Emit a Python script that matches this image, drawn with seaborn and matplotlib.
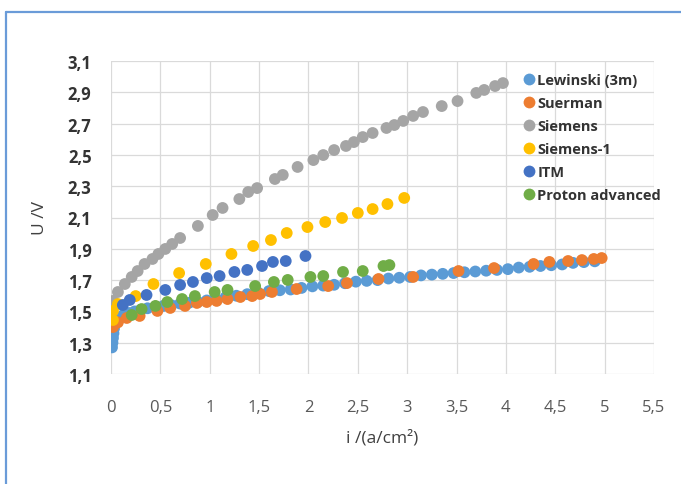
import numpy as np
import pandas as pd
import matplotlib
matplotlib.use("Agg")
import matplotlib.pyplot as plt
from matplotlib.lines import Line2D
from matplotlib.ticker import FixedLocator, FuncFormatter
import seaborn as sns

# Polarisation curves of PEM electrolysers
series_names = ["Lewinski (3m)", "Suerman", "Siemens", "Siemens-1", "ITM", "Proton advanced"]
series_colors = ["#5B9BD5", "#ED7D31", "#A5A5A5", "#FFC000", "#4472C4", "#70AD47"]

lewinski_i = [0.01, 0.015, 0.02, 0.025, 0.03, 0.04, 0.06, 0.09, 0.13, 0.18, 0.24, 0.30, 0.37,
              0.45, 0.53, 0.61, 0.70, 0.79, 0.88, 0.97, 1.06, 1.16, 1.27, 1.38, 1.49, 1.60,
              1.71, 1.82, 1.93, 2.04, 2.15, 2.26, 2.37, 2.48, 2.59, 2.70, 2.81, 2.92, 3.03,
              3.14, 3.25, 3.36, 3.47, 3.58, 3.69, 3.80, 3.91, 4.02, 4.13, 4.24, 4.35, 4.46,
              4.57, 4.68, 4.79, 4.90]
lewinski_u = [1.27, 1.30, 1.33, 1.36, 1.39, 1.42, 1.44, 1.46, 1.48, 1.49, 1.50, 1.51, 1.52,
              1.53, 1.535, 1.54, 1.55, 1.555, 1.56, 1.57, 1.58, 1.59, 1.60, 1.61, 1.62, 1.63,
              1.635, 1.64, 1.65, 1.66, 1.665, 1.67, 1.68, 1.69, 1.695, 1.70, 1.71, 1.715, 1.72,
              1.73, 1.735, 1.74, 1.745, 1.75, 1.755, 1.76, 1.765, 1.77, 1.78, 1.785, 1.79, 1.795,
              1.80, 1.81, 1.815, 1.82]

suerman_i = [0.02, 0.07, 0.16, 0.29, 0.47, 0.60, 0.75, 0.87, 0.97, 1.07, 1.18, 1.31, 1.43,
             1.51, 1.63, 1.88, 2.20, 2.39, 2.71, 3.06, 3.52, 3.88, 4.28, 4.44, 4.63, 4.77,
             4.89, 4.97]
suerman_u = [1.40, 1.43, 1.458, 1.471, 1.503, 1.522, 1.535, 1.554, 1.56, 1.567, 1.579, 1.592,
             1.598, 1.611, 1.624, 1.643, 1.662, 1.681, 1.707, 1.72, 1.758, 1.777, 1.803, 1.816,
             1.822, 1.828, 1.835, 1.841]

siemens_i = [0.01, 0.02, 0.07, 0.14, 0.21, 0.27, 0.34, 0.42, 0.48, 0.55, 0.62, 0.70, 0.88,
             1.03, 1.13, 1.30, 1.39, 1.48, 1.66, 1.74, 1.89, 2.05, 2.15, 2.26, 2.38, 2.46,
             2.55, 2.65, 2.79, 2.87, 2.96, 3.06, 3.16, 3.35, 3.51, 3.70, 3.78, 3.89, 3.97]
siemens_u = [1.52, 1.567, 1.624, 1.675, 1.72, 1.758, 1.803, 1.835, 1.867, 1.899, 1.931, 1.969,
             2.046, 2.116, 2.161, 2.218, 2.263, 2.288, 2.346, 2.372, 2.423, 2.467, 2.499, 2.531,
             2.557, 2.582, 2.614, 2.64, 2.672, 2.691, 2.717, 2.749, 2.774, 2.812, 2.844, 2.896,
             2.915, 2.94, 2.959]

siemens1_i = [0.02, 0.02, 0.07, 0.25, 0.43, 0.69, 0.96, 1.22, 1.44, 1.62, 1.78, 1.99, 2.17,
              2.34, 2.50, 2.65, 2.80, 2.97]
siemens1_u = [1.445, 1.503, 1.547, 1.598, 1.675, 1.745, 1.803, 1.867, 1.918, 1.956, 2.001,
              2.039, 2.071, 2.097, 2.129, 2.154, 2.186, 2.225]

itm_i = [0.12, 0.19, 0.36, 0.55, 0.70, 0.83, 0.97, 1.10, 1.25, 1.38, 1.53, 1.64, 1.77, 1.97]
itm_u = [1.541, 1.573, 1.605, 1.637, 1.669, 1.688, 1.713, 1.726, 1.752, 1.765, 1.79, 1.816,
         1.822, 1.854]

proton_i = [0.21, 0.31, 0.45, 0.57, 0.72, 0.85, 1.05, 1.18, 1.46, 1.65, 1.79, 2.02, 2.15,
            2.35, 2.55, 2.76, 2.82]
proton_u = [1.477, 1.515, 1.535, 1.56, 1.579, 1.598, 1.624, 1.637, 1.662, 1.688, 1.701, 1.72,
            1.726, 1.752, 1.758, 1.79, 1.796]

x_ticks = [0, 0.5, 1, 1.5, 2, 2.5, 3, 3.5, 4, 4.5, 5, 5.5]
y_ticks = [1.1, 1.3, 1.5, 1.7, 1.9, 2.1, 2.3, 2.5, 2.7, 2.9, 3.1]

frames = []
for name, xs, ys in zip(series_names,
                        [lewinski_i, suerman_i, siemens_i, siemens1_i, itm_i, proton_i],
                        [lewinski_u, suerman_u, siemens_u, siemens1_u, itm_u, proton_u]):
    frames.append(pd.DataFrame({"i": xs, "U": ys, "series": name}))
df = pd.concat(frames, ignore_index=True)

sns.set_theme(style="white")
plt.rcParams["font.family"] = ["Open Sans", "DejaVu Sans"]

W, H = 681, 485
fig = plt.figure(figsize=(W / 100, H / 100), dpi=100)
ax = fig.add_axes([111 / W, 1 - 375 / H, (654 - 111) / W, (375 - 62) / H])

sns.scatterplot(data=df, x="i", y="U", hue="series", hue_order=series_names,
                palette=series_colors, s=72, linewidth=0, alpha=1, ax=ax, legend=False,
                zorder=3)

ax.set_xlim(0, 5.5)
ax.set_ylim(1.1, 3.1)
ax.xaxis.set_major_locator(FixedLocator(x_ticks))
ax.yaxis.set_major_locator(FixedLocator(y_ticks))
comma = FuncFormatter(lambda v, p: f"{v:g}".replace(".", ","))
ax.xaxis.set_major_formatter(comma)
ax.yaxis.set_major_formatter(comma)
ax.grid(True, color="#DADADA", linewidth=0.9, zorder=0)
ax.set_axisbelow(True)
for sp in ax.spines.values():
    sp.set_visible(False)
ax.tick_params(axis="both", length=0)
ax.tick_params(axis="x", labelsize=12, labelcolor="#595959", pad=18)
ax.tick_params(axis="y", labelsize=12, labelcolor="#333333", pad=14)
for lbl in ax.get_yticklabels():
    lbl.set_fontweight("bold")

ax.set_xlabel("i /(a/cm²)", fontsize=12.5, color="#404040", labelpad=10)
ax.set_ylabel("U /V", fontsize=12.5, color="#404040", labelpad=14)

handles = [Line2D([0], [0], marker="o", linestyle="none", markersize=8.5,
                  markerfacecolor=c, markeredgewidth=0) for c in series_colors]
leg = ax.legend(handles, series_names, loc="upper left", bbox_to_anchor=(0.745, 0.98),
                frameon=False, fontsize=10.5, handletextpad=0.1, labelspacing=0.62,
                handlelength=1.0, borderaxespad=0)
for t in leg.get_texts():
    t.set_color("#333333")
    t.set_fontweight("bold")

# light-blue frame lines along the top and left edge
border = "#6A9BD8"
fig.add_artist(Line2D([6 / W, 6 / W], [0, 1 - 13 / H], transform=fig.transFigure,
                      color=border, linewidth=1.6))
fig.add_artist(Line2D([6 / W, 1], [1 - 13 / H, 1 - 13 / H], transform=fig.transFigure,
                      color=border, linewidth=1.6))

fig.savefig("out.png", dpi=100, facecolor="white")
